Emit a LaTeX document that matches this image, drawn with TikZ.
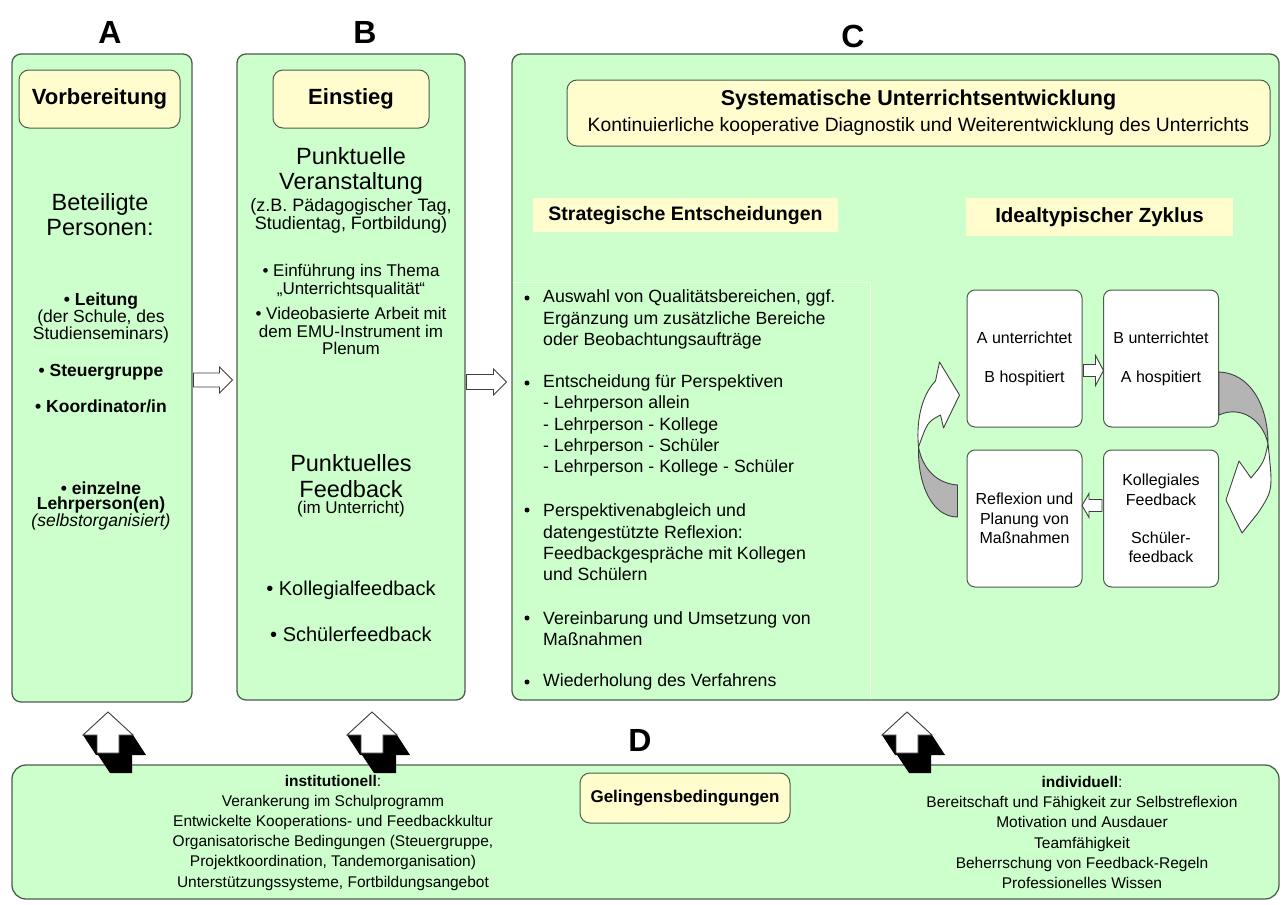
\documentclass[tikz,border=0pt]{standalone}
\usepackage{fontspec}
\setmainfont{Liberation Sans}
\usepackage{tikz}
\usetikzlibrary{calc}
\definecolor{boxgreen}{RGB}{204,255,204}
\definecolor{edgegreen}{RGB}{75,95,75}
\definecolor{paleyellow}{RGB}{255,252,206}
\definecolor{backgray}{RGB}{180,180,180}
\definecolor{framegreen}{RGB}{232,255,232}
\newcommand{\setfs}[2]{\fontsize{#1pt}{#2pt}\selectfont}

\begin{document}
\begin{tikzpicture}[x=1pt, y=-1pt,
    colbox/.style={draw=edgegreen, line width=1.3pt, fill=boxgreen, rounded corners=9pt, inner sep=0pt},
    titlebox/.style={draw=edgegreen, line width=1pt, fill=paleyellow, rounded corners=10pt, align=center, font=\bfseries\setfs{22}{26}},
    highlight/.style={fill=paleyellow, inner sep=0pt, font=\bfseries\setfs{19.5}{22}},
    letter/.style={font=\bfseries\setfs{32}{36}},
    bigtxt/.style={align=center, inner sep=0pt, font=\setfs{23.5}{25.5}},
    smalltxt/.style={align=center, inner sep=0pt, font=\setfs{17.5}{15.5}},
    btxt/.style={align=center, inner sep=0pt, font=\setfs{17}{17.5}},
    listtxt/.style={align=left, anchor=west, inner sep=0pt, font=\setfs{17.7}{21.4}},
    cycbox/.style={draw=edgegreen, line width=1pt, fill=white, rounded corners=8pt, minimum width=115pt, minimum height=137pt, align=center, font=\setfs{16}{19.5}},
    bottxt/.style={align=center, inner sep=0pt, font=\setfs{15.5}{20.2}},
    dot/.style={minimum size=5pt, inner sep=0pt, fill, circle},
    hollow/.style={draw=black!75, line width=.9pt, fill=white, line join=miter},
    backarrow/.style={draw=black!75, line width=.9pt, fill=backgray}]

    \fill[white] (0,0) rectangle (1286,905);
    \useasboundingbox (0,0) rectangle (1286,905);

    % the four panels
    \node[colbox, minimum width=180pt, minimum height=648pt] (colA) at (102,378) {};
    \node[colbox, minimum width=228pt, minimum height=646pt] (colB) at (351,377) {};
    \node[colbox, minimum width=767pt, minimum height=646pt] (colC) at (895.5,377) {};
    \node[colbox, minimum width=1267pt, minimum height=134pt, rounded corners=14pt] (colD) at (645.5,832) {};

    \node[letter] (labA) at (110,32) {A};
    \node[letter] (labB) at (365,32) {B};
    \node[letter] (labC) at (853,36) {C};
    \node[letter] (labD) at (640,740) {D};

    % A
    \node[titlebox, minimum width=161pt, minimum height=58pt] (vorb) at (99.5,99) {Vorbereitung};
    \node[bigtxt] (beteil) at (100,214.5) {Beteiligte\\Personen:};
    \node[smalltxt] (leit) at (101,318) {\textbf{\textbullet\ Leitung}\\(der Schule, des\\Studienseminars)};
    \node[smalltxt, font=\bfseries\setfs{17.5}{15.5}] (steuer) at (101,372) {\textbullet\ Steuergruppe};
    \node[smalltxt, font=\bfseries\setfs{17.5}{15.5}] (koord) at (101,406) {\textbullet\ Koordinator/in};
    \node[smalltxt] (einzel) at (101,506) {\textbf{\textbullet\ einzelne}\\\textbf{Lehrperson(en)}\\\textit{(selbstorganisiert)}};

    % B
    \node[titlebox, minimum width=156pt, minimum height=58pt] (einst) at (351,99) {Einstieg};
    \node[bigtxt] (veranst) at (351,171) {Punktuelle\\Veranstaltung};
    \node[btxt, font=\setfs{18}{18}] (zb) at (351,215.5) {(z.B. Pädagogischer Tag,\\Studientag, Fortbildung)};
    \node[btxt] (einf) at (351,281) {\textbullet\ Einführung ins Thema\\„Unterrichtsqualität“};
    \node[btxt] (video) at (351,331) {\textbullet\ Videobasierte Arbeit mit\\dem EMU-Instrument im\\Plenum};
    \node[bigtxt] (pfeed) at (351,476) {Punktuelles\\Feedback};
    \node[btxt] (imunt) at (351,509) {(im Unterricht)};
    \node[btxt, font=\setfs{20}{22}] (koll) at (351,590) {\textbullet\ Kollegialfeedback};
    \node[btxt, font=\setfs{20}{22}] (schuel) at (351,634) {\textbullet\ Schülerfeedback};

    % C
    \node[titlebox, minimum width=703pt, minimum height=66pt] (syst) at (918.5,113)
        {{\bfseries\setfs{21.5}{23}Systematische Unterrichtsentwicklung}\\{\mdseries\setfs{19.3}{23}Kontinuierliche kooperative Diagnostik und Weiterentwicklung des Unterrichts}};
    \node[highlight, minimum width=305pt, minimum height=34pt] (strat) at (685.5,215) {Strategische Entscheidungen};
    \node[highlight, minimum width=267pt, minimum height=38pt, font=\bfseries\setfs{20.5}{22}] (ideal) at (1099.5,217) {Idealtypischer Zyklus};

    \draw[framegreen, line width=1pt] (513,282) -- (870,282) -- (870,699);

    \node[dot] (b1) at (527,298) {};
    \node[dot] (b2) at (527,383) {};
    \node[dot] (b3) at (527,510) {};
    \node[dot] (b4) at (527,618) {};
    \node[dot] (b5) at (527,682) {};
    \node[listtxt] (item1) at (543,319.5) {Auswahl von Qualitätsbereichen, ggf.\\Ergänzung um zusätzliche Bereiche\\oder Beobachtungsaufträge};
    \node[listtxt] (item2) at (543,425.5) {Entscheidung für Perspektiven\\- Lehrperson allein\\- Lehrperson - Kollege\\- Lehrperson - Schüler\\- Lehrperson - Kollege - Schüler};
    \node[listtxt] (item3) at (543,542.5) {Perspektivenabgleich und\\datengestützte Reflexion:\\Feedbackgespräche mit Kollegen\\und Schülern};
    \node[listtxt] (item4) at (543,628.5) {Vereinbarung und Umsetzung von\\Maßnahmen};
    \node[listtxt] (item5) at (543,682) {Wiederholung des Verfahrens};

    % cycle
    \node[cycbox] (c1) at (1024.5,358.5) {A unterrichtet\\[19.5pt]B hospitiert};
    \node[cycbox] (c2) at (1161,358.5) {B unterrichtet\\[19.5pt]A hospitiert};
    \node[cycbox] (c3) at (1024.5,518.5) {Reflexion und\\Planung von\\Maßnahmen};
    \node[cycbox] (c4) at (1161,518.5) {Kollegiales\\Feedback\\[18.5pt]Schüler-\\feedback};

    \draw[hollow] ($(c1.east)+(1,6)$) -- ++(12,0) -- ++(0,-9) -- ++(8,15) -- ++(-8,15) -- ++(0,-9) -- ++(-12,0) -- cycle;
    \draw[hollow] ($(c4.west)+(-1,-19)$) -- ++(-13,0) -- ++(0,-6) -- ++(-7,12) -- ++(7,12) -- ++(0,-6) -- ++(13,0) -- cycle;

    % curved arrows c2 -> c4 and c3 -> c1
    \draw[backarrow, shift={(c2.east)}] (0,13.5) .. controls (30,14.5) and (49,45) .. (49,85.5)
        .. controls (44,61.5) and (22,46.5) .. (0,56.5) -- cycle;
    \draw[hollow, line join=round, shift={(c2.east)}] (49,85.5) .. controls (45,103.5) .. (32,119.5)
        -- (20,102.5) -- (7,141.5) -- (23,174.5) -- (39,154.5) .. controls (54,131.5) .. (49,85.5) -- cycle;
    \draw[backarrow, shift={(c3.west)}] (-9,-33.5) .. controls (-30,-35) and (-44,-50) .. (-48,-71.5)
        .. controls (-49,-35) and (-35,-1.5) .. (-9,-1.5) -- cycle;
    \draw[hollow, line join=round, shift={(c3.west)}] (-48,-71.5) .. controls (-51,-103.5) and (-42,-126.5) .. (-31,-137.5)
        -- (-27,-156.5) -- (-7,-123.5) -- (-23,-90.5) -- (-26,-103.5) .. controls (-39,-96.5) .. (-48,-71.5) -- cycle;

    % arrows between panels
    \coordinate (ab) at ($(colA.east)!.5!(colB.west)+(0,2.5)$);
    \coordinate (bc) at ($(colB.east)!.5!(colC.west)+(0,5)$);
    \draw[hollow] ($(ab)+(-21,-7)$) -- ++(26,0) -- ++(0,-6) -- ++(13,13) -- ++(-13,13) -- ++(0,-6) -- ++(-26,0) -- cycle;
    \draw[hollow] ($(bc)+(-22,-7.5)$) -- ++(27,0) -- ++(0,-5.5) -- ++(13,13) -- ++(-13,13) -- ++(0,-5.5) -- ++(-27,0) -- cycle;

    % D
    \node[titlebox, minimum width=210pt, minimum height=50pt, font=\bfseries\setfs{17}{20}] (geling) at (685,798) {Gelingensbedingungen};
    \node[bottxt] (inst) at (333,832.5) {\textbf{institutionell}:\\Verankerung im Schulprogramm\\Entwickelte Kooperations- und Feedbackkultur\\Organisatorische Bedingungen (Steuergruppe,\\Projektkoordination, Tandemorganisation)\\Unterstützungssysteme, Fortbildungsangebot};
    \node[bottxt] (indiv) at (1082,832.5) {\textbf{individuell}:\\Bereitschaft und Fähigkeit zur Selbstreflexion\\Motivation und Ausdauer\\Teamfähigkeit\\Beherrschung von Feedback-Regeln\\Professionelles Wissen};

    % 3d arrows up to the panels
    \coordinate (upA) at (108,712);
    \coordinate (upB) at (372,712);
    \coordinate (upC) at (907,712);
    \foreach \p in {upA,upB,upC}{
        \fill[black, shift={(\p)}] (0,0) -- (25,23) -- (38,43) -- (24,43) -- (24,61) -- (2,61) -- (-10,43) -- (-12,43) -- (-25,23) -- cycle;
        \draw[hollow, shift={(\p)}] (0,0) -- (25,23) -- (11,23) -- (11,41) -- (-11,41) -- (-11,23) -- (-25,23) -- cycle;
    }

\end{tikzpicture}
\end{document}
